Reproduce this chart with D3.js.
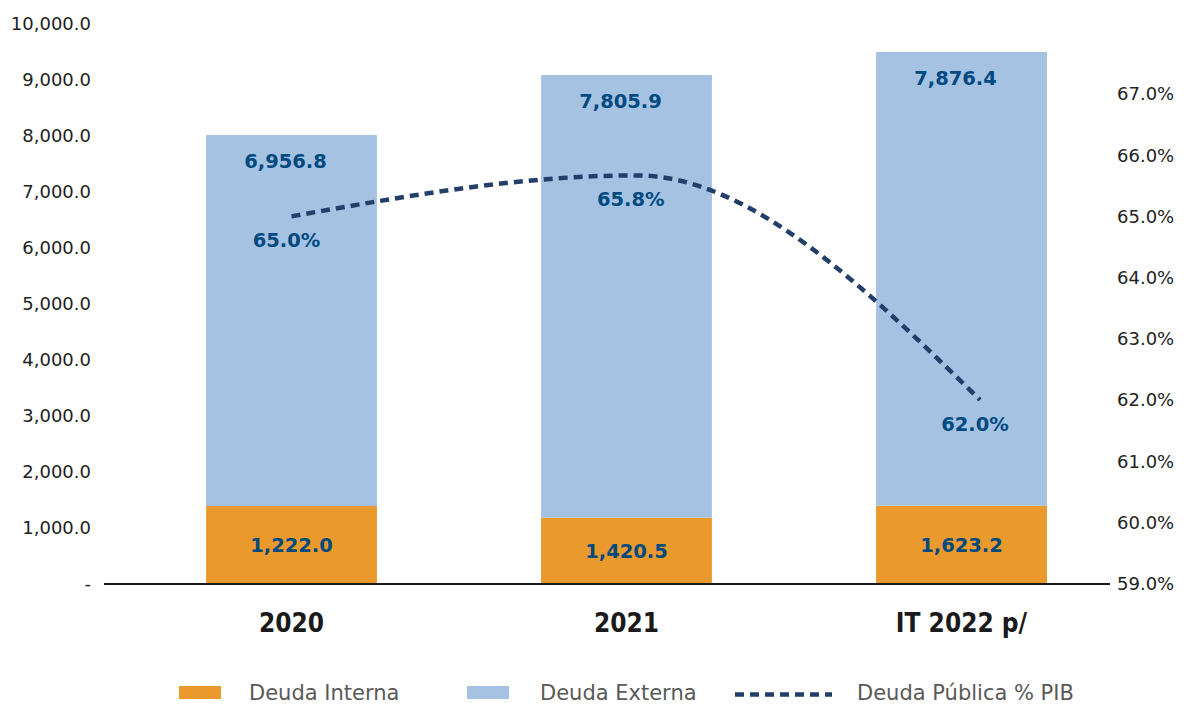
<!DOCTYPE html>
<html>
<head>
<meta charset="utf-8">
<script src="https://cdn.jsdelivr.net/npm/d3@7"></script>
<style>
  html, body { margin: 0; padding: 0; background: #fff; }
  svg { display: block; }
</style>
</head>
<body>
<svg id="chart" width="1184" height="707"></svg>
<script>
// ---- data ----
const categories = ["2020", "2021", "IT 2022 p/"];
const deudaInterna = [1393, 1184, 1398];          // bar heights as drawn
const deudaExterna = [6625, 7905, 8102];          // bar heights as drawn
const internaLabels = ["1,222.0", "1,420.5", "1,623.2"];
const externaLabels = ["6,956.8", "7,805.9", "7,876.4"];
const deudaPIB = [65.0, 65.67, 62.0];              // line values as drawn (%)
const pibLabels = ["65.0%", "65.8%", "62.0%"];
const leftTicks = [0, 1000, 2000, 3000, 4000, 5000, 6000, 7000, 8000, 9000, 10000];
const rightTicks = [59, 60, 61, 62, 63, 64, 65, 66, 67];
const seriesNames = ["Deuda Interna", "Deuda Externa", "Deuda Pública % PIB"];

// ---- styles ----
const cInterna = "#EA9A2C";
const cExterna = "#A5C2E3";
const cLine = "#223F6A";
const cLabel = "#004A7F";
const cTick = "#222222";
const cLegend = "#595959";
const font = "'DejaVu Sans', Verdana, sans-serif";

const svg = d3.select("#chart");

const x = d3.scaleBand().domain(categories).range([124, 1129])
  .paddingInner(0.49).paddingOuter(0.245);
const y = d3.scaleLinear().domain([0, 10000]).range([584, 24]);
const yR = d3.scaleLinear().domain([59, 67]).range([583.5, 94]);
const lineX = d3.scaleLinear().domain([0, categories.length - 1])
  .range([x(categories[0]) + x.bandwidth() / 2,
          x(categories[categories.length - 1]) + x.bandwidth() / 2 + 18.5]);

const fmt = d3.format(",.1f");

// ---- bars ----
const g = svg.append("g");
categories.forEach((c, i) => {
  const x0 = x(c), bw = x.bandwidth();
  const yi = y(deudaInterna[i]);
  const ye = y(deudaInterna[i] + deudaExterna[i]);
  g.append("rect").attr("x", x0).attr("width", bw)
    .attr("y", yi).attr("height", y(0) - yi).attr("fill", cInterna);
  g.append("rect").attr("x", x0).attr("width", bw)
    .attr("y", ye).attr("height", yi - ye).attr("fill", cExterna);
});

// ---- x axis line ----
svg.append("line").attr("x1", 104).attr("x2", 1110)
  .attr("y1", y(0)).attr("y2", y(0))
  .attr("stroke", "#1a1a1a").attr("stroke-width", 2);

// ---- left axis labels ----
svg.append("g").selectAll("text").data(leftTicks).join("text")
  .attr("x", 91).attr("y", d => y(d))
  .attr("dy", "0.36em")
  .attr("text-anchor", "end")
  .attr("font-family", font).attr("font-size", 18)
  .attr("fill", cTick)
  .text(d => d === 0 ? "-" : fmt(d));

// ---- right axis labels ----
svg.append("g").selectAll("text").data(rightTicks).join("text")
  .attr("x", 1117).attr("y", d => yR(d))
  .attr("dy", "0.36em")
  .attr("text-anchor", "start")
  .attr("font-family", font).attr("font-size", 18)
  .attr("fill", cTick)
  .text(d => d.toFixed(1) + "%");

// ---- category labels ----
svg.append("g").selectAll("text").data(categories).join("text")
  .attr("x", d => x(d) + x.bandwidth() / 2)
  .attr("y", 623).attr("dy", "0.36em")
  .attr("text-anchor", "middle")
  .attr("font-family", "'DejaVu Sans Condensed', 'DejaVu Sans', sans-serif")
  .attr("font-weight", "bold")
  .attr("font-size", 26)
  .attr("fill", "#1a1a1a")
  .text(d => d);

// ---- line ----
const line = d3.line()
  .x((d, i) => lineX(i))
  .y(d => yR(d))
  .curve(d3.curveMonotoneX);
svg.append("path").datum(deudaPIB)
  .attr("d", line)
  .attr("fill", "none")
  .attr("stroke", cLine)
  .attr("stroke-width", 4.5)
  .attr("stroke-dasharray", "9,6");

// ---- data labels ----
const lab = svg.append("g")
  .attr("font-family", font).attr("font-weight", "bold")
  .attr("font-size", 19.5).attr("fill", cLabel)
  .attr("text-anchor", "middle");
categories.forEach((c, i) => {
  const cx = x(c) + x.bandwidth() / 2;
  const yi = y(deudaInterna[i]);
  const ye = y(deudaInterna[i] + deudaExterna[i]);
  lab.append("text").attr("x", cx).attr("y", (yi + y(0)) / 2)
    .attr("dy", "0.36em").text(internaLabels[i]);
  lab.append("text").attr("x", cx - 6).attr("y", ye + 26)
    .attr("dy", "0.36em").text(externaLabels[i]);
  lab.append("text").attr("x", lineX(i) - 5).attr("y", yR(deudaPIB[i]) + 24)
    .attr("dy", "0.36em").text(pibLabels[i]);
});

// ---- legend ----
const lg = svg.append("g");
const legendItems = [
  { name: seriesNames[0], type: "rect", color: cInterna, sx: 179, tx: 249 },
  { name: seriesNames[1], type: "rect", color: cExterna, sx: 467, tx: 540 },
  { name: seriesNames[2], type: "line", color: cLine, sx: 735, tx: 857 }
];
legendItems.forEach(it => {
  if (it.type === "rect") {
    lg.append("rect").attr("x", it.sx).attr("y", 686).attr("width", 42).attr("height", 13)
      .attr("fill", it.color);
  } else {
    lg.append("line").attr("x1", it.sx).attr("x2", it.sx + 97)
      .attr("y1", 694.5).attr("y2", 694.5)
      .attr("stroke", it.color).attr("stroke-width", 4.5)
      .attr("stroke-dasharray", "9,6");
  }
  lg.append("text").attr("x", it.tx).attr("y", 692).attr("dy", "0.36em")
    .attr("font-family", font).attr("font-size", 21).attr("fill", cLegend)
    .text(it.name);
});
</script>
</body>
</html>
